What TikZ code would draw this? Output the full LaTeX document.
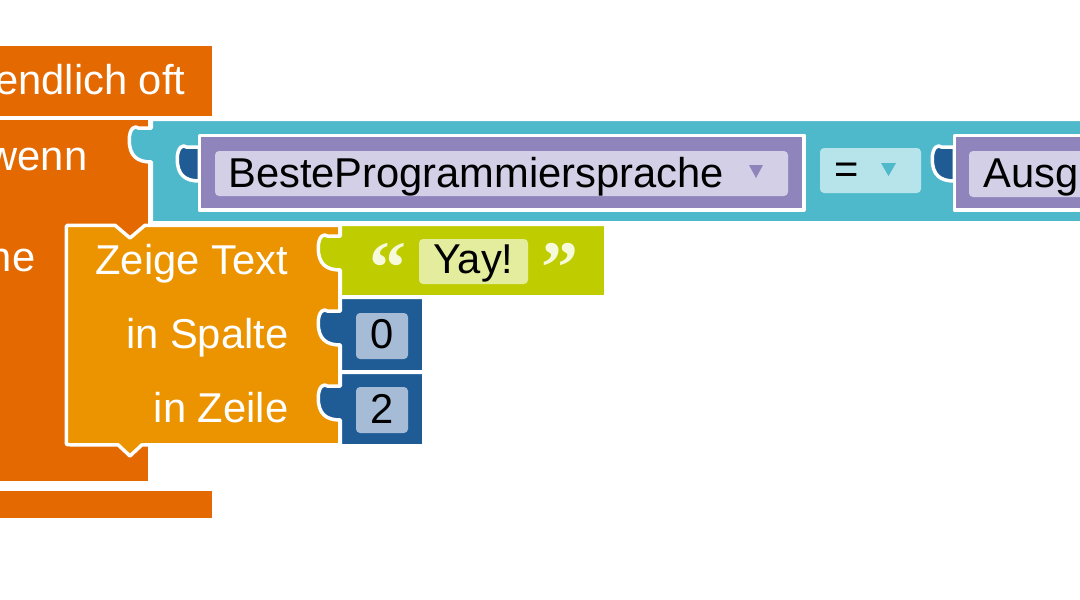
\documentclass[tikz,border=0pt]{standalone}
\usepackage{fontspec}
\setmainfont{Liberation Sans}
\newfontfamily\quotefont{Liberation Serif}
\definecolor{looporange}{RGB}{227,105,0}
\definecolor{zeigeorange}{RGB}{236,148,0}
\definecolor{cyanblock}{RGB}{79,185,204}
\definecolor{purpleblock}{RGB}{143,133,188}
\definecolor{lavender}{RGB}{210,207,230}
\definecolor{lightcyan}{RGB}{183,227,234}
\definecolor{greenblock}{RGB}{191,204,0}
\definecolor{yayinner}{RGB}{228,236,157}
\definecolor{darkblue}{RGB}{31,92,150}
\definecolor{numinner}{RGB}{165,187,214}
\definecolor{quotecol}{RGB}{246,249,218}
\begin{document}
\begin{tikzpicture}[x=1pt,y=-1pt,
  blk/.style={draw=white,line width=3.5pt,line join=round},
  wlbl/.style={text=white,font=\fontsize{41.7}{48}\selectfont,inner sep=0pt},
  blbl/.style={text=black,font=\fontsize{41.7}{48}\selectfont,inner sep=0pt},
  qlbl/.style={text=quotecol,font=\quotefont\bfseries\fontsize{74}{80}\selectfont,inner sep=0pt},
  tabdown/.style 2 args={insert path={-- (#1,#2) -- ({#1-13},#2)
      .. controls ({#1-16},{#2-3}) and ({#1-22},#2) .. ({#1-22},{#2+12})
      .. controls ({#1-22},{#2+28}) and ({#1-14},{#2+34}) .. (#1,{#2+34})}},
  inbox/.style={rounded corners=4pt}]
\useasboundingbox (0,0) rectangle (1080,600);
\clip (0,0) rectangle (1080,600);
% loop block (wiederhole)
\path[blk,fill=looporange] (-20,44.25) rectangle (213.75,117.75);
\path[blk,fill=looporange] (-20,489.25) rectangle (213.75,519.75);
% wenn block
\path[blk,fill=looporange] (-20,118.25) rectangle (149.75,482.75);
\node[wlbl,anchor=base east] (loop) at (185.5,94.5) {endlich oft};
\node[wlbl,anchor=base east] (wenn) at (87.5,170) {wenn};
\node[wlbl,anchor=base east] (mache) at (35.5,271) {ne};
% condition block (cyan)
\path[blk,fill=cyanblock] (1100,119.25) -- (151.25,119.25) [tabdown={151.25}{128}] -- (151.25,222.75) -- (1100,222.75) -- cycle;
% variable block 1
\path[blk,fill=darkblue] (199.25,147) [tabdown={199.25}{147}] -- cycle;
\path[blk,fill=purpleblock] (199.25,135.25) rectangle (803.75,209.75);
\path[inbox,fill=lavender] (215,151) rectangle (788,196);
\node[blbl,anchor=base west] (var1) at (228,187) {BesteProgrammiersprache};
\path[fill=purpleblock] (749,165) -- (763,165) -- (756,178) -- cycle;
% comparison operator
\path[inbox,fill=lightcyan] (820,148) rectangle (921,193);
\node[blbl,anchor=base west] (eq) at (834.5,183.5) {=};
\path[fill=cyanblock] (881,163) -- (896,163) -- (888.5,176) -- cycle;
% variable block 2
\path[blk,fill=darkblue] (954.25,147) [tabdown={954.25}{147}] -- cycle;
\path[blk,fill=purpleblock] (954.25,135.25) rectangle (1100,209.75);
\path[inbox,fill=lavender] (969,151) rectangle (1100,197);
\node[blbl,anchor=base west] (var2) at (983,187) {Ausg};
% Zeige Text block
\path[blk,fill=zeigeorange] (339.75,225.25) -- (145,225.25) -- (130,238) -- (115,225.25)
  -- (70.25,225.25) .. controls (66.25,225.25) .. (66.25,229.25)
  -- (66.25,440.75) .. controls (66.25,444.75) .. (70.25,444.75)
  -- (118,444.75) -- (130,456) -- (142,444.75) -- (339.75,444.75) -- cycle;
\node[wlbl,anchor=base east] (zeige) at (288,274) {Zeige Text};
\node[wlbl,anchor=base east] (spalte) at (288.5,348) {in Spalte};
\node[wlbl,anchor=base east] (zeile) at (288.5,422) {in Zeile};
% text block
\path[blk,fill=greenblock] (605.75,224.25) -- (340.25,224.25) [tabdown={340.25}{236}] -- (340.25,296.75) -- (605.75,296.75) -- cycle;
\path[inbox,fill=yayinner] (419,239) rectangle (528,284);
\node[blbl,anchor=base west] (yay) at (433,273) {Yay!};
\node[qlbl,anchor=north] (lq) at (387.5,243) {“};
\node[qlbl,anchor=north] (rq) at (559.5,243) {”};
% number blocks
\path[blk,fill=darkblue] (423.75,297.25) -- (340.25,297.25) [tabdown={340.25}{311}] -- (340.25,371.75) -- (423.75,371.75) -- cycle;
\path[inbox,fill=numinner] (356,313) rectangle (408,359);
\node[blbl,anchor=base] (n0) at (382,348) {0};
\path[blk,fill=darkblue] (423.75,372.25) -- (340.25,372.25) [tabdown={340.25}{386}] -- (340.25,445.75) -- (423.75,445.75) -- cycle;
\path[inbox,fill=numinner] (356,387) rectangle (408,433);
\node[blbl,anchor=base] (n2) at (382,423) {2};
\end{tikzpicture}
\end{document}
